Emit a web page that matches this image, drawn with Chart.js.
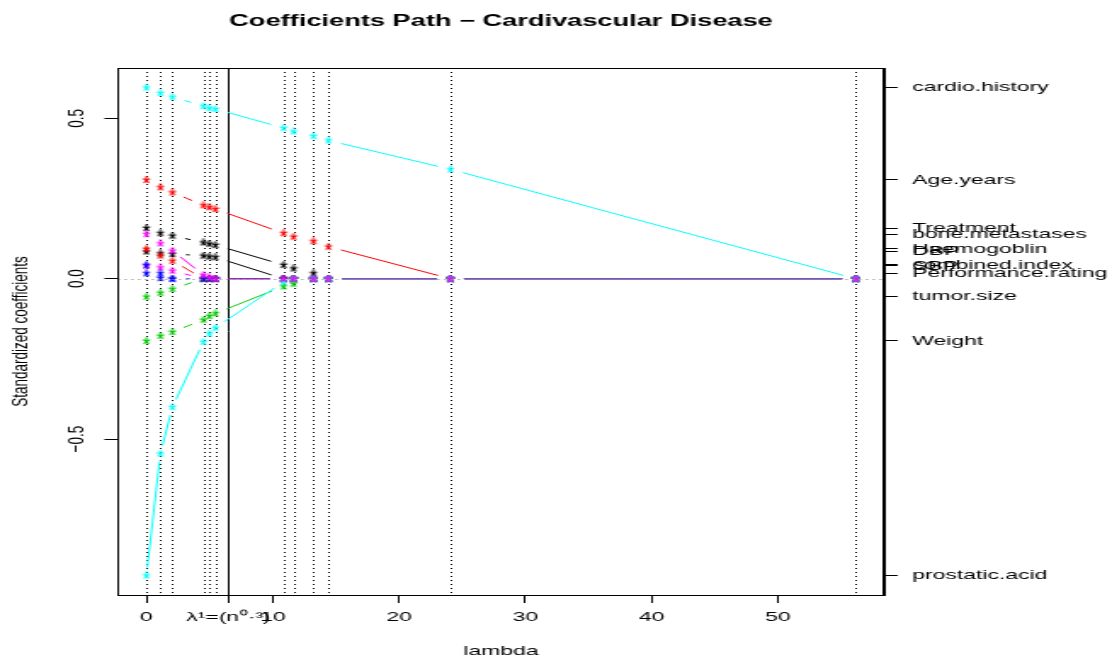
<!DOCTYPE html>
<html>
<head>
<meta charset="utf-8">
<script src="https://cdn.jsdelivr.net/npm/chart.js@4"></script>
<style>
  html, body { margin: 0; padding: 0; background: #fff; }
</style>
</head>
<body>
<!-- drawn at 654px wide and stretched to 1112px, like the original R picture -->
<canvas id="coefPlot" width="654" height="660" style="width:1112px;height:660px;display:block"></canvas>
<script>
// knots of the lasso path
const lambdas = [0, 1.11, 2.06, 4.51, 4.99, 5.46, 10.85, 11.64, 13.22, 14.41, 24.07, 56.14];
const lambdaOne = 6.49; // n^0.3
const lambdaOneLabel = 'λ¹=(n⁰·³)';
const xTicks = [0, 10, 20, 30, 40, 50];
const yTicks = [-0.5, 0, 0.5];

const varNames = ['Treatment', 'Age.years', 'Weight', 'Performance.rating', 'cardio.history', 'SBP',
  'DBP', 'Haemogoblin', 'tumor.size', 'combined.index', 'prostatic.acid', 'bone.metastases'];
const varColors = ['#000000', '#ff0000', '#00cd00', '#0000ff', '#00ffff', '#ff00ff',
  '#000000', '#ff0000', '#00cd00', '#0000ff', '#00ffff', '#ff00ff'];

// standardized coefficients at each knot
const treatment   = [0.158, 0.142, 0.134, 0.113, 0.109, 0.105, 0.043, 0.032, 0.017, 0, 0, 0];
const ageYears    = [0.308, 0.285, 0.269, 0.229, 0.223, 0.217, 0.142, 0.131, 0.117, 0.100, 0, 0];
const weight      = [-0.194, -0.178, -0.166, -0.128, -0.116, -0.108, -0.024, -0.016, 0, 0, 0, 0];
const perfRating  = [0.017, 0.002, 0, 0, 0, 0, 0, 0, 0, 0, 0, 0];
const cardio      = [0.596, 0.579, 0.567, 0.538, 0.532, 0.529, 0.470, 0.459, 0.445, 0.431, 0.341, 0];
const sbp         = [0.040, 0.035, 0.025, 0, 0, 0, 0, 0, 0, 0, 0, 0];
const dbp         = [0.085, 0.079, 0.077, 0.072, 0.069, 0.067, 0, 0, 0, 0, 0, 0];
const haemo       = [0.093, 0.072, 0.056, 0, 0, 0, 0, 0, 0, 0, 0, 0];
const tumorSize   = [-0.056, -0.044, -0.032, 0, 0, 0, 0, 0, 0, 0, 0, 0];
const combinedIdx = [0.043, 0.017, 0, 0, 0, 0, 0, 0, 0, 0, 0, 0];
const prostatic   = [-0.925, -0.545, -0.400, -0.197, -0.171, -0.153, -0.010, 0, 0, 0, 0, 0];
const boneMet     = [0.139, 0.110, 0.0875, 0.012, 0.004, 0, 0, 0, 0, 0, 0, 0];

const series = [treatment, ageYears, weight, perfRating, cardio, sbp, dbp, haemo, tumorSize,
  combinedIdx, prostatic, boneMet];

const stretch = 1112 / 654;
const gap = 8; // gap round the points, like type = "b"

// R like ranges (4% extension)
function rRange(vals) {
  const lo = Math.min(...vals), hi = Math.max(...vals);
  const pad = 0.04 * (hi - lo);
  return [lo - pad, hi + pad];
}
const [xMin, xMax] = rRange(lambdas);
const [yMin, yMax] = rRange(series.flat());

function starImage(color) {
  const c = document.createElement('canvas');
  c.width = 6; c.height = 8;
  const g = c.getContext('2d');
  g.strokeStyle = color;
  g.lineWidth = 1.2;
  g.lineCap = 'round';
  for (let k = 0; k < 5; k++) {
    const a = k * 2 * Math.PI / 5;
    g.beginPath();
    g.moveTo(3, 4);
    g.lineTo(3 + Math.sin(a) * 3.2 / stretch, 4 - Math.cos(a) * 3.2);
    g.stroke();
  }
  return c;
}

const fam = '"Liberation Sans", Arial, sans-serif';
Chart.defaults.font.family = fam;
Chart.defaults.font.size = 13.5;
Chart.defaults.color = '#000';

const pathPlugin = {
  id: 'pathLines',
  beforeDatasetsDraw(chart) {
    const {ctx, chartArea: area, scales: {x}} = chart;
    ctx.save();
    ctx.beginPath();
    ctx.rect(area.left, area.top, area.right - area.left, area.bottom - area.top);
    ctx.clip();
    ctx.lineWidth = 1;
    ctx.strokeStyle = '#000';
    ctx.setLineDash([1, 3]);
    lambdas.forEach(l => {
      const px = Math.round(x.getPixelForValue(l)) + 0.5;
      ctx.beginPath(); ctx.moveTo(px, area.top); ctx.lineTo(px, area.bottom); ctx.stroke();
    });
    ctx.setLineDash([]);
    const p1 = Math.round(x.getPixelForValue(lambdaOne)) + 0.5;
    ctx.beginPath(); ctx.moveTo(p1, area.top); ctx.lineTo(p1, area.bottom); ctx.stroke();

    chart.data.datasets.forEach((ds, i) => {
      const pts = chart.getDatasetMeta(i).data;
      ctx.strokeStyle = ds.borderColor;
      for (let k = 0; k + 1 < pts.length; k++) {
        const a = pts[k], b = pts[k + 1];
        const dx = b.x - a.x, dy = b.y - a.y;
        const len = Math.hypot(dx, dy);
        if (len <= 2 * gap) continue;
        const t0 = gap / len, t1 = 1 - gap / len;
        ctx.globalAlpha = (ds.data[k].y === 0 && ds.data[k + 1].y === 0) ? 0.5 : 1;
        ctx.beginPath();
        ctx.moveTo(a.x + dx * t0, a.y + dy * t0);
        ctx.lineTo(a.x + dx * t1, a.y + dy * t1);
        ctx.stroke();
      }
    });
    ctx.restore();
  },
  afterDatasetsDraw(chart) {
    const {ctx, chartArea: area, scales: {y}} = chart;
    ctx.save();
    ctx.strokeStyle = '#888';
    ctx.lineWidth = 1;
    ctx.setLineDash([1, 3]);
    const py = Math.round(y.getPixelForValue(0)) + 0.5;
    ctx.beginPath(); ctx.moveTo(area.left, py); ctx.lineTo(area.right, py); ctx.stroke();
    ctx.setLineDash([]);
    ctx.strokeStyle = '#000';
    ctx.strokeRect(Math.round(area.left) + 0.5, Math.round(area.top) + 0.5,
      Math.round(area.right - area.left), Math.round(area.bottom - area.top));
    ctx.restore();
  },
  afterDraw(chart) {
    const {ctx, chartArea: area} = chart;
    ctx.save();
    ctx.font = 'bold 16px ' + fam;
    ctx.fillStyle = '#000';
    ctx.textAlign = 'center';
    ctx.textBaseline = 'middle';
    ctx.fillText('Coefficients Path − Cardivascular Disease', (area.left + area.right) / 2, 22);
    ctx.restore();
  }
};

new Chart(document.getElementById('coefPlot'), {
  type: 'scatter',
  data: {
    datasets: series.map((vals, i) => ({
      label: varNames[i],
      data: vals.map((v, k) => ({x: lambdas[k], y: v})),
      borderColor: varColors[i],
      backgroundColor: varColors[i],
      pointStyle: starImage(varColors[i]),
      pointRadius: 3,
      showLine: false,
      order: series.length - i
    }))
  },
  options: {
    responsive: false,
    animation: false,
    devicePixelRatio: 1,
    layout: { padding: { top: 68, left: 0, right: 0, bottom: 0 } },
    plugins: { legend: { display: false }, tooltip: { enabled: false } },
    scales: {
      x: {
        type: 'linear', position: 'bottom', min: xMin, max: xMax,
        afterBuildTicks: s => { s.ticks = [...xTicks, lambdaOne].map(v => ({value: v})); },
        afterFit: s => { s.height = 65; },
        ticks: {
          autoSkip: false, maxRotation: 0, padding: 6,
          callback: v => v === lambdaOne ? lambdaOneLabel : String(v)
        },
        grid: { drawOnChartArea: false, tickLength: 8, color: '#000' },
        border: { color: '#000' },
        title: { display: true, text: 'lambda', padding: { top: 0, bottom: 1 } }
      },
      y: {
        type: 'linear', position: 'left', min: yMin, max: yMax,
        afterBuildTicks: s => { s.ticks = yTicks.map(v => ({value: v})); },
        afterFit: s => { s.width = 118 / stretch; },
        ticks: {
          minRotation: 90, maxRotation: 90, crossAlign: 'center', padding: 3,
          callback: v => v.toFixed(1).replace('-', '−')
        },
        grid: { drawOnChartArea: false, tickLength: 8, color: '#000' },
        border: { color: '#000' },
        title: { display: true, text: 'Standardized coefficients', padding: { top: 3.7, bottom: 0 } }
      },
      y2: {
        type: 'linear', position: 'right', min: yMin, max: yMax,
        afterBuildTicks: s => { s.ticks = series.map(vals => ({value: vals[0]})); },
        afterFit: s => { s.width = 654 - 884 / stretch; },
        ticks: {
          autoSkip: false, padding: 8.5,
          callback: (v, i) => varNames[i]
        },
        grid: { drawOnChartArea: false, tickLength: 8, color: '#000' },
        border: { color: '#000' }
      }
    }
  },
  plugins: [pathPlugin]
});
</script>
</body>
</html>
